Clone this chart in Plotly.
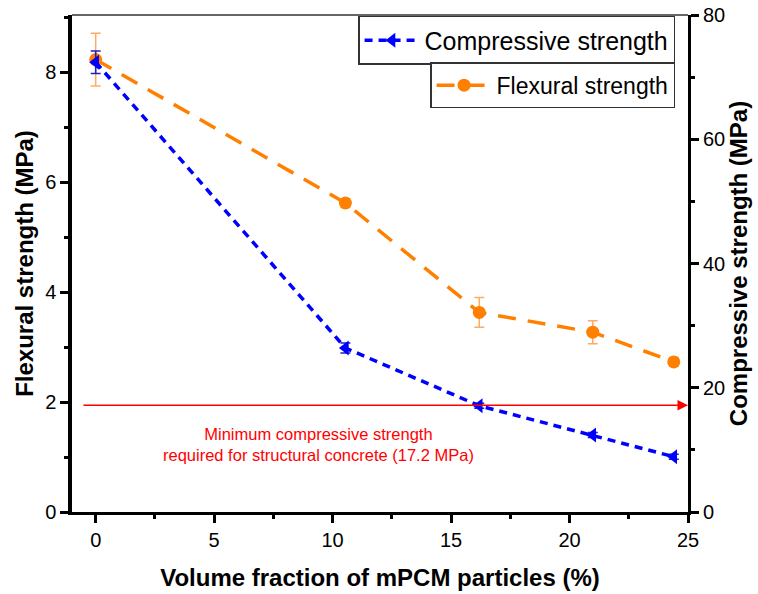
import plotly.graph_objects as go

# mPCM volume fraction (%)
volume_fraction = [0, 10.54, 16.19, 20.98, 24.4]

# Compressive strength (MPa), right axis
compressive = [72.4, 26.4, 17.1, 12.4, 8.9]
compressive_err = [1.8, 0.8, 0.4, 0.4, 0.4]

# Flexural strength (MPa), left axis
flexural = [8.23, 5.62, 3.63, 3.27, 2.73]
flexural_err = [0.48, 0.08, 0.27, 0.21, 0.08]

# Minimum compressive strength for structural concrete (MPa)
min_strength = 17.2

FONT = "Liberation Sans, Arial, sans-serif"
x_range = [-1.0, 25.0]

fig = go.Figure()

fig.add_trace(go.Scatter(
    x=volume_fraction, y=flexural, name="Flexural strength",
    mode="lines+markers", yaxis="y", legend="legend2", showlegend=True,
    line=dict(color="#FF8000", width=3.5, dash="18px,12px"),
    marker=dict(symbol="circle", size=13, color="#FF8000"),
    error_y=dict(type="data", array=flexural_err, color="rgba(255,150,60,0.8)",
                 thickness=1.5, width=5),
))

fig.add_trace(go.Scatter(
    x=volume_fraction, y=compressive, name="Compressive strength",
    mode="lines+markers", yaxis="y2", legend="legend", showlegend=True,
    line=dict(color="#0000FF", width=3.5, dash="8px,6px"),
    marker=dict(symbol="triangle-left", size=13, color="#0000FF"),
    error_y=dict(type="data", array=compressive_err, color="#2020C0",
                 thickness=1.5, width=5),
))

# red threshold line with arrow head at the right axis
fig.add_annotation(
    x=x_range[1], y=min_strength, xref="x", yref="y2",
    ax=x_range[0] + 0.42, ay=min_strength, axref="x", ayref="y2",
    text="", showarrow=True, arrowhead=2, arrowsize=1.4, arrowwidth=1.5,
    arrowcolor="#FF0000", standoff=0,
)
fig.add_annotation(
    x=0.40, y=0.135, xref="paper", yref="paper", xanchor="center", yanchor="middle",
    text="Minimum compressive strength<br>required for structural concrete (17.2 MPa)",
    showarrow=False, font=dict(family=FONT, size=16.5, color="#FF0000"),
    align="center",
)

# thin top frame line
fig.add_shape(type="line", xref="paper", yref="paper", x0=0, x1=1, y0=1, y1=1,
              line=dict(color="#333333", width=1.5))

axis_common = dict(
    showgrid=False, zeroline=False, showline=True, linecolor="black",
    ticks="outside", ticklen=8, tickwidth=3, tickcolor="black",
    tickfont=dict(family=FONT, size=20, color="black"),
    ticklabeloverflow="allow",
)

fig.update_layout(
    width=758, height=594, template="none", showlegend=True,
    paper_bgcolor="white", plot_bgcolor="white",
    margin=dict(l=72, r=70, t=15, b=82),
    font=dict(family=FONT, color="black"),
    xaxis=dict(
        range=x_range, dtick=5, tick0=0, linewidth=3,
        minor=dict(dtick=2.5, tick0=0, ticks="outside", ticklen=4, tickwidth=3,
                   tickcolor="black"),
        title=dict(text="<b>Volume fraction of mPCM particles (%)</b>",
                   font=dict(family=FONT, size=24), standoff=20),
        **axis_common,
    ),
    yaxis=dict(
        range=[0, 9.04], dtick=2, tick0=0, linewidth=3.5,
        minor=dict(dtick=1, tick0=0, ticks="outside", ticklen=4, tickwidth=3,
                   tickcolor="black"),
        title=dict(text="<b>Flexural strength (MPa)</b>",
                   font=dict(family=FONT, size=24), standoff=6),
        **axis_common,
    ),
    yaxis2=dict(
        range=[0, 80], dtick=20, tick0=0, linewidth=3,
        overlaying="y", side="right",
        minor=dict(dtick=10, tick0=0, ticks="outside", ticklen=4, tickwidth=3,
                   tickcolor="black"),
        title=dict(text="<b>Compressive strength (MPa)</b>",
                   font=dict(family=FONT, size=24), standoff=6),
        **axis_common,
    ),
    legend=dict(
        x=0.979, y=0.998, xanchor="right", yanchor="top", visible=True,
        bgcolor="white", bordercolor="#333333", borderwidth=1.5,
        font=dict(family=FONT, size=25), itemwidth=55,
    ),
    legend2=dict(
        x=0.979, y=0.905, xanchor="right", yanchor="top", visible=True,
        bgcolor="white", bordercolor="#333333", borderwidth=1.5,
        font=dict(family=FONT, size=23), itemwidth=55,
    ),
)

# drop the page's default body margin so the figure fills the window
fig.write_html("out.html", config={"displayModeBar": False},
               post_script="document.body.style.margin='0';")
